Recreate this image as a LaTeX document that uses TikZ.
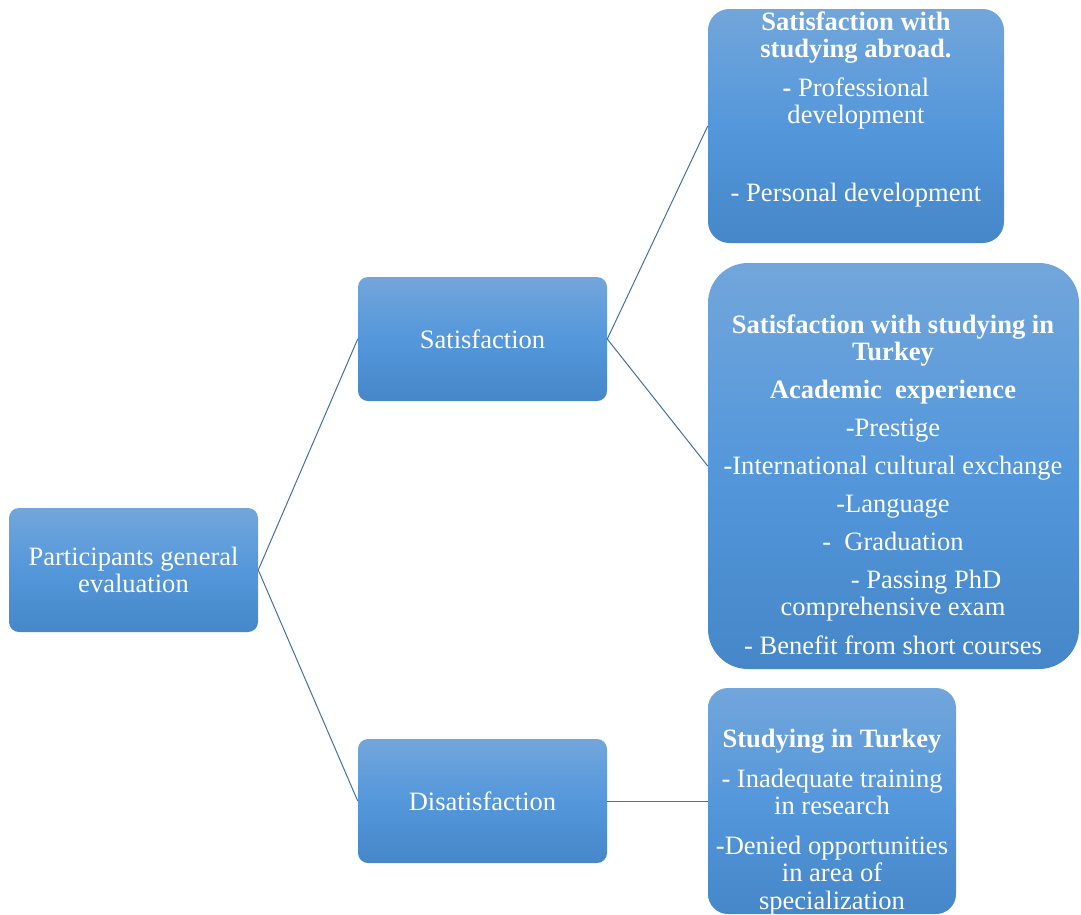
\documentclass[tikz,border=0pt]{standalone}
\usepackage{fontspec}
\setmainfont{Liberation Serif}
\definecolor{gtop}{RGB}{114,166,219}
\definecolor{gmid}{RGB}{84,151,219}
\definecolor{gbot}{RGB}{69,135,200}
\definecolor{linecol}{RGB}{65,113,156}
\begin{document}
\begin{tikzpicture}[x=0.75pt,y=-0.75pt,
  box/.style={rounded corners=#1, top color=gtop, bottom color=gbot, middle color=gmid,
    draw=none, inner sep=0pt, text=white, align=center,
    font=\fontsize{19.9}{20.3}\selectfont},
  sz/.style 2 args={minimum width=#1*0.75pt, minimum height=#2*0.75pt},
  txt/.style={text=white, align=center, inner sep=0pt,
    font=\fontsize{19.9}{20.3}\selectfont},
  conn/.style={draw=linecol, line width=0.75pt}]
\useasboundingbox (0,0) rectangle (1081,914);

\node[box=7.5pt, sz={249}{124}] (A) at (133.5,570) {Participants general\\evaluation};
\node[box=7.5pt, sz={249}{124}] (B) at (482.5,339) {Satisfaction};
\node[box=7.5pt, sz={249}{124}] (C) at (482.5,801) {Disatisfaction};
\node[box=16pt, sz={296}{234}] (D) at (856,126) {};
\node[box=30pt, sz={371}{406}] (E) at (893.5,466) {};
\node[box=15pt, sz={248}{226}] (F) at (832,801) {};

\node[txt] (tD) at (856,109.5) {\textbf{Satisfaction with}\\\textbf{studying abroad.}\\[9pt]
  \textbf{-} Professional\\development\\[38.25pt]- Personal development};
\node[txt] (tE) at (893,484.5) {\textbf{Satisfaction with studying in}\\\textbf{Turkey}\\[8.25pt]
  \textbf{Academic\ \ experience}\\[8.25pt]
  -Prestige\\[8.25pt]
  -International cultural exchange\\[8.25pt]
  -Language\\[8.25pt]
  -\ \ Graduation\\[8.25pt]
  \hspace*{49.5pt}- Passing PhD\\comprehensive exam\\[8.25pt]
  - Benefit from short courses};
\node[txt] (tF) at (832,822) {\textbf{Studying in Turkey}\\[9.75pt]
  - Inadequate training\\in research\\[9.75pt]
  -Denied opportunities\\in area of\\specialization};

\draw[conn] (A.east) -- (B.west);
\draw[conn] (A.east) -- (C.west);
\draw[conn] (B.east) -- (D.west);
\draw[conn] (B.east) -- (E.west);
\draw[conn] (C.east) -- (F.west);
\end{tikzpicture}
\end{document}
